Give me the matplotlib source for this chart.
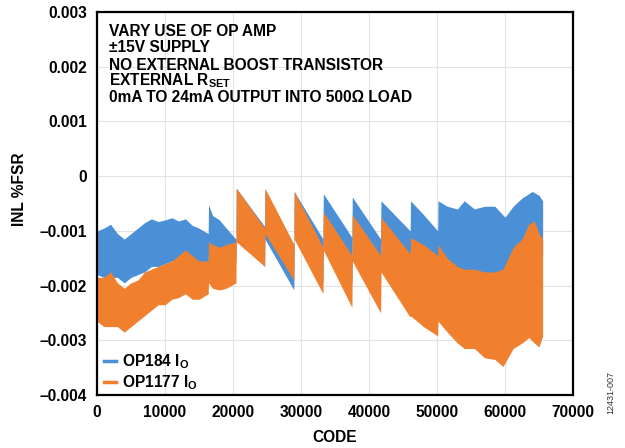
import numpy as np
import matplotlib
matplotlib.use("Agg")
import matplotlib.pyplot as plt
from matplotlib.lines import Line2D

plt.rcParams['font.family'] = ['Liberation Sans', 'DejaVu Sans']
plt.rcParams['font.weight'] = 'bold'
plt.rcParams['mathtext.fontset'] = 'custom'
plt.rcParams['mathtext.rm'] = 'Liberation Sans:bold'
plt.rcParams['mathtext.bf'] = 'Liberation Sans:bold'
plt.rcParams['mathtext.it'] = 'Liberation Sans:bold'

# ---------------- data (envelopes of the noisy INL traces) -------------
# OP184 (blue)
op184_code = [0, 1000, 2000, 3000, 4000, 5000, 6000, 7000, 8000, 9000, 10000, 11000, 12000,
              13000, 14000, 15000, 16350,
              16400, 17000, 18000, 19000, 20430,
              20480, 24650, 24700, 28950, 29000, 33230, 33280, 37490, 37540, 41710,
              41760, 46050, 46100, 48000, 50100,
              50150, 51500, 53000, 54000, 55500, 57000, 58500, 60000, 61200, 62500,
              64000, 65000, 65535]
op184_hi = [-0.00100, -0.00095, -0.00088, -0.00105, -0.00115, -0.00105, -0.00095, -0.00085,
            -0.00078, -0.00083, -0.00080, -0.00076, -0.00082, -0.00078, -0.00090, -0.00095, -0.00105,
            -0.00052, -0.00072, -0.00080, -0.00095, -0.00115,
            -0.00022, -0.00092, -0.00025, -0.00125, -0.00028, -0.00115, -0.00032, -0.00112,
            -0.00038, -0.00115,
            -0.00045, -0.00100, -0.00045, -0.00070, -0.00100,
            -0.00045, -0.00055, -0.00060, -0.00045, -0.00060, -0.00055, -0.00055, -0.00075,
            -0.00055, -0.00040, -0.00028, -0.00035, -0.00045]
op184_lo = [-0.00180, -0.00185, -0.00185, -0.00185, -0.00195, -0.00185, -0.00180, -0.00175,
            -0.00165, -0.00165, -0.00160, -0.00155, -0.00155, -0.00160, -0.00165, -0.00165, -0.00175,
            -0.00135, -0.00145, -0.00155, -0.00155, -0.00155,
            -0.00095, -0.00165, -0.00115, -0.00208, -0.00105, -0.00195, -0.00115, -0.00195,
            -0.00115, -0.00195,
            -0.00125, -0.00185, -0.00135, -0.00165, -0.00195,
            -0.00165, -0.00185, -0.00195, -0.00198, -0.00200, -0.00200, -0.00210, -0.00210,
            -0.00165, -0.00145, -0.00135, -0.00135, -0.00145]

# OP1177 (orange)
op1177_code = [0, 1000, 2000, 3000, 4000, 5000, 6000, 7000, 8000, 9000, 10000, 11000, 12000,
               13000, 14000, 15000, 16350,
               16400, 17000, 18000, 19000, 20430,
               20480, 24650, 24700, 28950, 29000, 33230, 33280, 37490, 37540, 41710,
               41760, 46050, 46100, 48000, 50100,
               50150, 51500, 53000, 54000, 55500, 57000, 58500, 59700, 61200, 62500,
               63500, 64300, 65000, 65535]
op1177_hi = [-0.00185, -0.00185, -0.00175, -0.00195, -0.00205, -0.00195, -0.00190, -0.00175,
             -0.00170, -0.00165, -0.00160, -0.00155, -0.00145, -0.00135, -0.00145, -0.00155, -0.00155,
             -0.00120, -0.00125, -0.00130, -0.00125, -0.00120,
             -0.00022, -0.00095, -0.00022, -0.00125, -0.00028, -0.00130, -0.00065, -0.00145,
             -0.00070, -0.00145,
             -0.00075, -0.00142, -0.00112, -0.00125, -0.00145,
             -0.00125, -0.00150, -0.00165, -0.00170, -0.00170, -0.00175, -0.00175, -0.00170,
             -0.00130, -0.00115, -0.00088, -0.00082, -0.00105, -0.00115]
op1177_lo = [-0.00265, -0.00275, -0.00275, -0.00275, -0.00285, -0.00275, -0.00265, -0.00255,
             -0.00245, -0.00235, -0.00235, -0.00225, -0.00222, -0.00215, -0.00225, -0.00225, -0.00215,
             -0.00195, -0.00205, -0.00208, -0.00205, -0.00195,
             -0.00120, -0.00165, -0.00105, -0.00190, -0.00115, -0.00215, -0.00135, -0.00240,
             -0.00155, -0.00250,
             -0.00175, -0.00258, -0.00255, -0.00275, -0.00292,
             -0.00265, -0.00285, -0.00305, -0.00315, -0.00315, -0.00332, -0.00335, -0.00348,
             -0.00315, -0.00305, -0.00295, -0.00305, -0.00312, -0.00292]

x_ticks = [0, 10000, 20000, 30000, 40000, 50000, 60000, 70000]
y_ticks = [-0.004, -0.003, -0.002, -0.001, 0, 0.001, 0.002, 0.003]
y_ticklabels = ['\u20130.004', '\u20130.003', '\u20130.002', '\u20130.001', '0', '0.001', '0.002', '0.003']
series_labels = [r'OP184 I$_{\mathrm{O}}$', r'OP1177 I$_{\mathrm{O}}$']
notes = ['VARY USE OF OP AMP', '\u00b115V SUPPLY', 'NO EXTERNAL BOOST TRANSISTOR',
         r'EXTERNAL R$_{\mathrm{SET}}$', '0mA TO 24mA OUTPUT INTO 500\u03a9 LOAD']

BLUE = '#4b90d6'
ORANGE = '#f07f2e'
FS = 11.2

W, H = 625, 448
fig = plt.figure(figsize=(W / 100, H / 100), dpi=100)
ax = fig.add_axes([97 / W, 1 - 395 / H, 476 / W, 383 / H])

ax.fill_between(op184_code, op184_lo, op184_hi, color=BLUE, lw=0, zorder=2)
ax.fill_between(op1177_code, op1177_lo, op1177_hi, color=ORANGE, lw=0, zorder=3)

ax.set_xlim(0, 70000)
ax.set_ylim(-0.004, 0.003)
ax.set_xticks(x_ticks)
ax.set_xticklabels([str(t) for t in x_ticks])
ax.set_yticks(y_ticks)
ax.set_yticklabels(y_ticklabels)
ax.tick_params(length=0, labelsize=FS, pad=7)
ax.tick_params(axis='x', pad=7)
ax.grid(True, color='#e3e3e3', lw=0.8, zorder=0)
ax.set_axisbelow(True)
for s in ax.spines.values():
    s.set_linewidth(1.6)
    s.set_color('black')
    s.set_zorder(5)

fig.text(335 / W, 1 - 437 / H, 'CODE', ha='center', va='center', fontsize=FS, weight='bold')
fig.text(20 / W, 1 - 189 / H, 'INL %FSR', ha='center', va='center', rotation=90,
         fontsize=FS, weight='bold')
fig.text(611 / W, 1 - 392 / H, '12431-007', ha='center', va='center', rotation=90,
         fontsize=6.5, color='#333333', weight='normal')

ys = [31, 48, 65, 81, 98]
for t, y in zip(notes, ys):
    fig.text(109 / W, 1 - y / H, t, ha='left', va='center', fontsize=FS, weight='bold')

handles = [Line2D([0], [0], color=BLUE, lw=2.5), Line2D([0], [0], color=ORANGE, lw=2.5)]
leg = ax.legend(handles, series_labels, loc='lower left',
                bbox_to_anchor=(104 / W, 1 - 392 / H), bbox_transform=fig.transFigure,
                frameon=False, fontsize=FS, handlelength=0.8, handletextpad=0.35,
                labelspacing=0.12, borderaxespad=0.0, borderpad=0.0)
for t in leg.get_texts():
    t.set_fontweight('bold')

fig.savefig('out.png', dpi=100)
